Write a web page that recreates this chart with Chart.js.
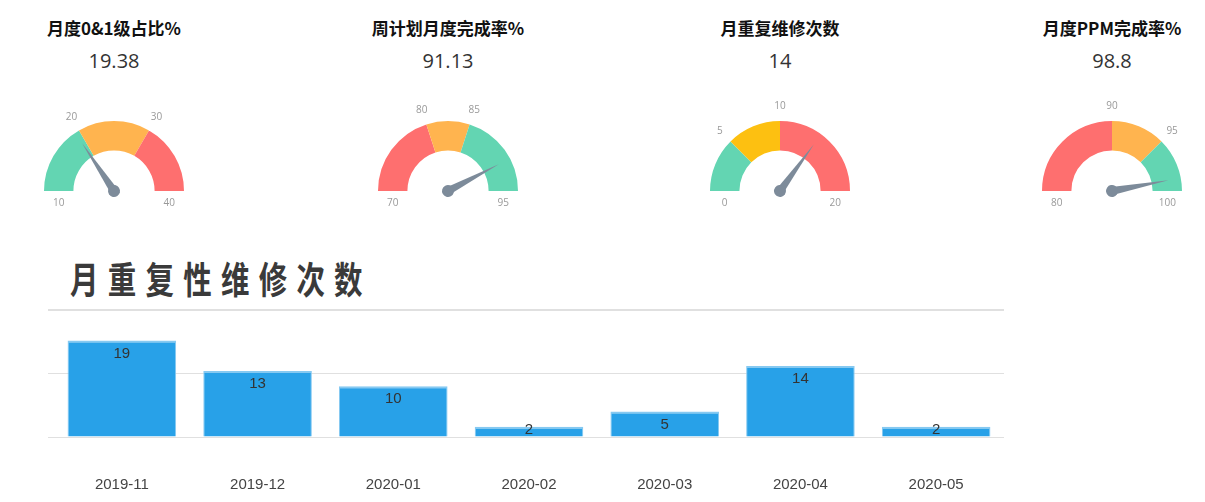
<!DOCTYPE html>
<html>
<head>
<meta charset="utf-8">
<script src="https://cdn.jsdelivr.net/npm/chart.js@4"></script>
<style>
  html, body { margin: 0; background: #fff; overflow: hidden; font-family: "Noto Sans CJK SC", "Open Sans", sans-serif; }
  .gauge-title { position: absolute; width: 240px; text-align: center; font-size: 17px; font-weight: bold; color: #111; top: 15px; }
  .gauge-value { position: absolute; width: 240px; text-align: center; font-family: "Open Sans", sans-serif; font-size: 20px; color: #333; top: 47px; }
  .gauge-canvas { position: absolute; }
  #barTitle { position: absolute; left: 70px; top: 251px; font-size: 37px; font-weight: bold; color: #3a3a3a;
              letter-spacing: 12px; transform: scaleX(0.77); transform-origin: left top; white-space: nowrap; }
  #barWrap { position: absolute; left: 40px; top: 300px; }
</style>
</head>
<body>
<div id="gauges"></div>
<div id="barTitle">月重复性维修次数</div>
<div id="barWrap"><canvas id="barChart" width="975" height="240"></canvas></div>
<script>
// gauges
const gaugeTitles = ['月度0&1级占比%', '周计划月度完成率%', '月重复维修次数', '月度PPM完成率%'];
const gaugeValues = [19.38, 91.13, 14, 98.8];
const gaugeMin = [10, 70, 0, 80];
const gaugeMax = [40, 95, 20, 100];
const gaugeBreaks = [[20, 30], [80, 85], [5, 10], [90, 95]];
const gaugeColors = [
    ['#63d5b2', '#ffb44f', '#fe6f6f'],
    ['#fe6f6f', '#ffb44f', '#63d5b2'],
    ['#63d5b2', '#fdc011', '#fe6f6f'],
    ['#fe6f6f', '#ffb44f', '#63d5b2']
];
const gaugeCenters = [114, 448, 780, 1112];

// bar chart
const months = ['2019-11', '2019-12', '2020-01', '2020-02', '2020-03', '2020-04', '2020-05'];
const repairCounts = [19, 13, 10, 2, 5, 14, 2];
const yMax = 25;
const yStep = 12.5;

const gaugeDecor = {
    id: 'gaugeDecor',
    afterDraw: (chart) => {
        const opts = chart.options.plugins.gaugeDecor;
        const arc = chart.getDatasetMeta(0).data[0];
        const ctx = chart.ctx;
        const cx = arc.x, cy = arc.y;
        const r = arc.outerRadius, ir = arc.innerRadius;
        const span = opts.max - opts.min;

        ctx.save();
        ctx.fillStyle = '#999';
        ctx.font = '10px "Open Sans", sans-serif';
        ctx.textAlign = 'center';
        ctx.textBaseline = 'middle';
        // end labels below the ring
        ctx.fillText(String(opts.min), cx - (r + ir) / 2, cy + 12);
        ctx.fillText(String(opts.max), cx + (r + ir) / 2, cy + 12);
        // break labels outside the arc
        opts.breaks.forEach(b => {
            const a = Math.PI + (b - opts.min) / span * Math.PI;
            ctx.fillText(String(b), cx + Math.cos(a) * (r + 15), cy + Math.sin(a) * (r + 15));
        });

        // needle
        const ang = Math.PI + (opts.value - opts.min) / span * Math.PI;
        const len = r * 0.82;
        ctx.translate(cx, cy);
        ctx.rotate(ang);
        ctx.fillStyle = '#7d8b9a';
        ctx.beginPath();
        ctx.moveTo(0, -4);
        ctx.lineTo(len, 0);
        ctx.lineTo(0, 4);
        ctx.closePath();
        ctx.fill();
        ctx.beginPath();
        ctx.arc(0, 0, 6, 0, Math.PI * 2);
        ctx.fill();
        ctx.restore();
    }
};

const drawGauges = () => {
    const holder = document.getElementById('gauges');
    gaugeTitles.forEach((title, i) => {
        const cx = gaugeCenters[i];
        const t = document.createElement('div');
        t.className = 'gauge-title';
        t.style.left = (cx - 120) + 'px';
        t.textContent = title;
        holder.appendChild(t);

        const v = document.createElement('div');
        v.className = 'gauge-value';
        v.style.left = (cx - 120) + 'px';
        v.textContent = String(gaugeValues[i]);
        holder.appendChild(v);

        const c = document.createElement('canvas');
        c.className = 'gauge-canvas';
        c.width = 200;
        c.height = 120;
        c.style.left = (cx - 100) + 'px';
        c.style.top = (191 - 95) + 'px';
        holder.appendChild(c);

        const edges = [gaugeMin[i], ...gaugeBreaks[i], gaugeMax[i]];
        const segs = [];
        for (let k = 1; k < edges.length; k++) {
            segs.push(edges[k] - edges[k - 1]);
        }

        new Chart(c, {
            type: 'doughnut',
            data: {
                labels: segs.map((s, k) => edges[k] + '-' + edges[k + 1]),
                datasets: [{
                    data: segs,
                    backgroundColor: gaugeColors[i],
                    borderWidth: 0
                }]
            },
            plugins: [gaugeDecor],
            options: {
                responsive: false,
                animation: false,
                rotation: -90,
                circumference: 180,
                cutout: '58%',
                layout: { padding: { top: 25, bottom: 25, left: 30, right: 30 } },
                plugins: {
                    legend: { display: false },
                    tooltip: { enabled: false },
                    gaugeDecor: {
                        min: gaugeMin[i],
                        max: gaugeMax[i],
                        breaks: gaugeBreaks[i],
                        value: gaugeValues[i]
                    }
                }
            }
        });
    });
};

const barLabels = {
    id: 'barLabels',
    afterDatasetsDraw: (chart) => {
        const ctx = chart.ctx;
        const meta = chart.getDatasetMeta(0);
        const ds = chart.data.datasets[0];
        ctx.save();
        ctx.fillStyle = '#333';
        ctx.font = '15px "Liberation Sans", Arial, sans-serif';
        ctx.textAlign = 'center';
        ctx.textBaseline = 'middle';
        meta.data.forEach((bar, k) => {
            const y = Math.min(bar.y + 13, bar.base - 7);
            ctx.fillText(String(ds.data[k]), bar.x, y);
        });
        ctx.restore();
    }
};

const drawBarChart = () => {
    new Chart(document.getElementById('barChart'), {
        type: 'bar',
        data: {
            labels: months,
            datasets: [{
                label: '月重复性维修次数',
                data: repairCounts,
                backgroundColor: '#28a1e8',
                borderColor: '#86c9f1',
                borderWidth: { top: 2, left: 1, right: 1, bottom: 0 },
                borderSkipped: 'bottom',
                barPercentage: 0.8,
                categoryPercentage: 1
            }]
        },
        plugins: [barLabels],
        options: {
            responsive: false,
            animation: false,
            layout: { padding: { top: 10, bottom: 7, left: 8, right: 11 } },
            plugins: {
                legend: { display: false },
                tooltip: { enabled: false }
            },
            scales: {
                x: {
                    grid: { display: false, drawTicks: false },
                    border: { display: false },
                    ticks: {
                        color: '#444',
                        padding: 39,
                        font: { size: 15, family: '"Liberation Sans", Arial, sans-serif' }
                    }
                },
                y: {
                    min: 0,
                    max: yMax,
                    ticks: { display: false, stepSize: yStep },
                    border: { display: false },
                    afterFit: (scale) => { scale.width = 6; },
                    grid: {
                        drawTicks: true,
                        tickLength: 6,
                        color: '#e0e0e0',
                        lineWidth: (c) => (c.tick && c.tick.value === yMax ? 2 : 1)
                    }
                }
            }
        }
    });
};

drawGauges();
drawBarChart();
</script>
</body>
</html>
